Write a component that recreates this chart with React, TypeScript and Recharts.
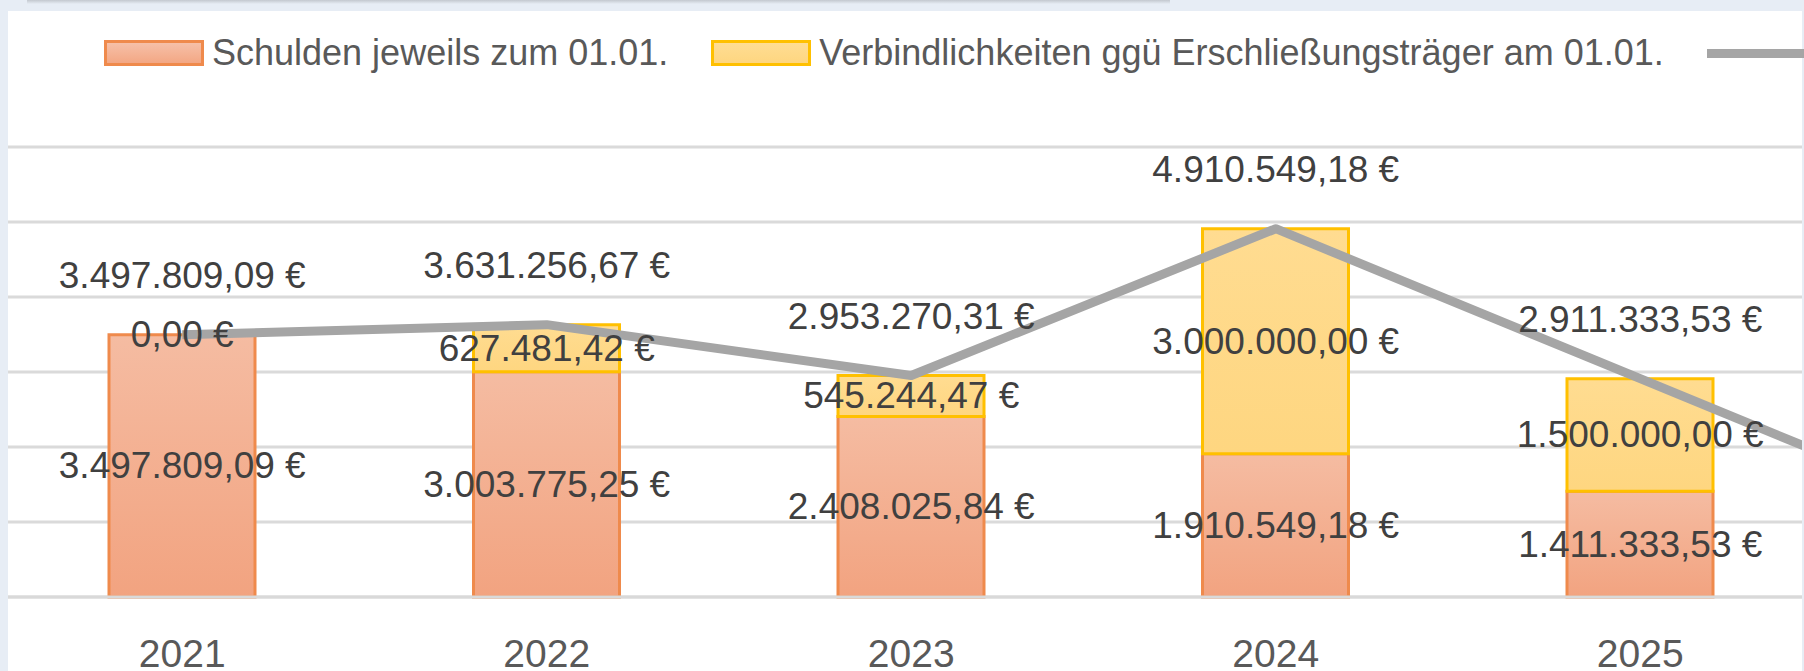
import { ComposedChart, Bar, Line, XAxis, YAxis, CartesianGrid, LabelList } from "recharts";

const years = ["2021", "2022", "2023", "2024", "2025", "2026"];
const schulden = [3497809.09, 3003775.25, 2408025.84, 1910549.18, 1411333.53, 911333.53];
const verbindlichkeiten = [0, 627481.42, 545244.47, 3000000, 1500000, 0];
const gesamt = [3497809.09, 3631256.67, 2953270.31, 4910549.18, 2911333.53, 911333.53];
const yTicks = [0, 1000000, 2000000, 3000000, 4000000, 5000000, 6000000];
const seriesNames = [
  "Schulden jeweils zum 01.01.",
  "Verbindlichkeiten ggü Erschließungsträger am 01.01.",
  "Gesamtverschuldung zum 01.01.",
];

// label positions for the stacked segments are taken from invisible helper lines
const data = years.map((year, i) => ({
  year,
  schulden: schulden[i],
  verbindlichkeiten: verbindlichkeiten[i],
  gesamt: gesamt[i],
  schuldenMitte: schulden[i] / 2,
  verbMitte: schulden[i] + verbindlichkeiten[i] / 2,
}));

const FONT = '"Liberation Sans", Arial, sans-serif';

const euro = (v: number) => {
  const [int, dec] = v.toFixed(2).split(".");
  return int.replace(/\B(?=(\d{3})+(?!\d))/g, ".") + "," + dec + " €";
};

const makeLabel = (dy: number) => (props: any) => {
  const x = props.x ?? props.viewBox?.x;
  const y = props.y ?? props.viewBox?.y;
  if (x == null || y == null) return null;
  return (
    <text x={x} y={y + dy} textAnchor="middle" dominantBaseline="central" fill="#404040" fontSize={37} fontFamily={FONT}>
      {euro(Number(props.value))}
    </text>
  );
};

const YearTick = ({ x, y, payload }: any) => (
  <text x={x} y={y + 56} textAnchor="middle" dominantBaseline="central" fill="#595959" fontSize={39} fontFamily={FONT}>
    {payload.value}
  </text>
);

const Legende = () => (
  <div
    style={{
      position: "absolute",
      left: 104,
      top: 40,
      height: 26,
      display: "flex",
      alignItems: "center",
      whiteSpace: "nowrap",
      fontFamily: FONT,
      fontSize: 36,
      color: "#595959",
    }}
  >
    <span style={{ width: 100, height: 26, boxSizing: "border-box", border: "3px solid #ef8a4c", background: "linear-gradient(#f6c0a8, #f3a784)", marginRight: 8 }} />
    <span style={{ marginRight: 43 }}>{seriesNames[0]}</span>
    <span style={{ width: 100, height: 26, boxSizing: "border-box", border: "3px solid #ffc000", background: "linear-gradient(#ffdd93, #fed680)", marginRight: 8 }} />
    <span style={{ marginRight: 43 }}>{seriesNames[1]}</span>
    <span style={{ width: 100, height: 9, background: "#a5a5a5", marginRight: 8 }} />
    <span>{seriesNames[2]}</span>
  </div>
);

export default function App() {
  return (
    <div style={{ position: "fixed", left: 0, top: 0, width: 1804, height: 671, overflow: "hidden", background: "#e7edf5" }}>
      <div style={{ position: "absolute", left: 27, top: 0, width: 1143, height: 4, background: "linear-gradient(#c3c8cf, #e7edf5)" }} />
      <div style={{ position: "absolute", left: 8, top: 11, width: 1794, height: 660, background: "#fff", overflow: "hidden" }}>
        <div style={{ position: "absolute", left: -8, top: -11 }}>
          <ComposedChart width={2187} height={700} data={data} margin={{ top: 147, right: 0, bottom: 0, left: 0 }}>
            <defs>
              <linearGradient id="gOrange" x1="0" y1="0" x2="0" y2="1">
                <stop offset="0%" stopColor="#f5bca2" />
                <stop offset="100%" stopColor="#f2a380" />
              </linearGradient>
              <linearGradient id="gGelb" x1="0" y1="0" x2="0" y2="1">
                <stop offset="0%" stopColor="#ffdc91" />
                <stop offset="100%" stopColor="#fed680" />
              </linearGradient>
            </defs>
            <CartesianGrid vertical={false} horizontalValues={yTicks} stroke="#dadada" strokeWidth={3} />
            <XAxis
              dataKey="year"
              height={103}
              axisLine={{ stroke: "#d9d9d9", strokeWidth: 3 }}
              tickLine={false}
              tickSize={0}
              tickMargin={0}
              tick={<YearTick />}
              interval={0}
            />
            <YAxis hide domain={[0, 6000000]} ticks={yTicks} />
            <Bar dataKey="schulden" name={seriesNames[0]} stackId="a" barSize={146} fill="url(#gOrange)" stroke="#ef8a4c" strokeWidth={3} isAnimationActive={false} />
            <Bar dataKey="verbindlichkeiten" name={seriesNames[1]} stackId="a" barSize={146} fill="url(#gGelb)" stroke="#ffc000" strokeWidth={3} isAnimationActive={false} />
            <Line dataKey="gesamt" name={seriesNames[2]} stroke="#a5a5a5" strokeWidth={9} strokeLinejoin="round" dot={false} activeDot={false} isAnimationActive={false}>
              <LabelList dataKey="gesamt" content={makeLabel(-59)} />
            </Line>
            <Line dataKey="schuldenMitte" stroke="none" dot={false} activeDot={false} legendType="none" isAnimationActive={false}>
              <LabelList dataKey="schulden" content={makeLabel(0)} />
            </Line>
            <Line dataKey="verbMitte" stroke="none" dot={false} activeDot={false} legendType="none" isAnimationActive={false}>
              <LabelList dataKey="verbindlichkeiten" content={makeLabel(0)} />
            </Line>
          </ComposedChart>
        </div>
      </div>
      <Legende />
    </div>
  );
}
